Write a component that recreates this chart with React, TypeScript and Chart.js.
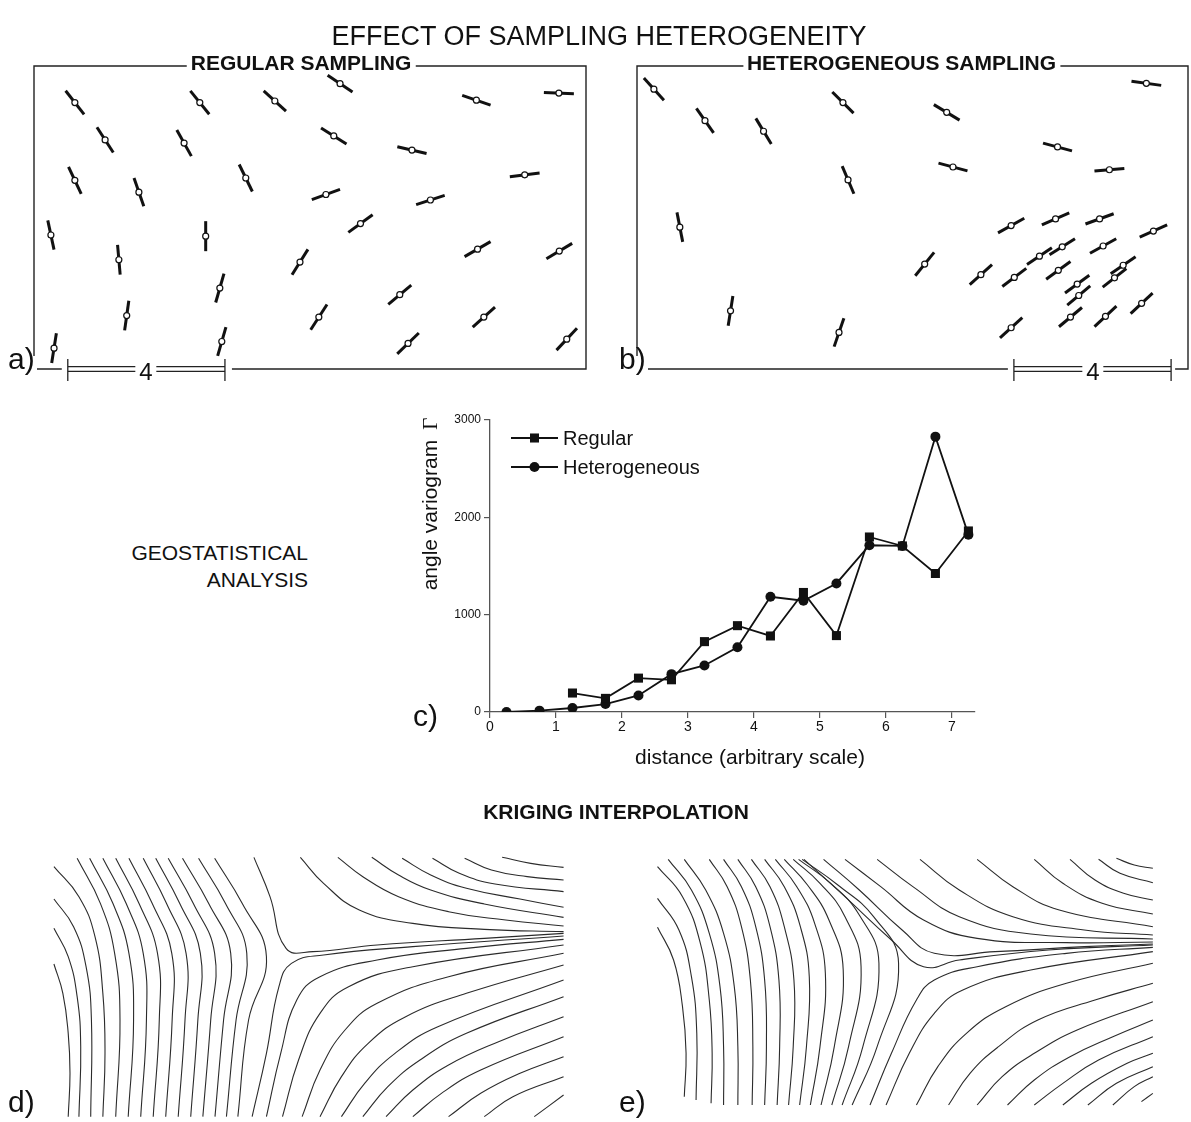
import React, { useEffect, useRef } from 'react';
import { Chart, registerables } from 'chart.js';

Chart.register(...registerables);

const SANS = '"Liberation Sans", Arial, Helvetica, sans-serif';
const INK = '#111';

// ---------- panel c : angle variogram ----------
const distances = [0.25, 0.75, 1.25, 1.75, 2.25, 2.75, 3.25, 3.75, 4.25, 4.75, 5.25, 5.75, 6.25, 6.75, 7.25];
const regularVariogram = [null, null, 195, 140, 348, 331, 723, 887, 781, 1228, 785, 1798, 1706, 1423, 1860];
const heterogeneousVariogram = [0, 14, 41, 82, 170, 389, 478, 665, 1184, 1143, 1321, 1713, 1706, 2829, 1822];
const distanceTicks = [0, 1, 2, 3, 4, 5, 6, 7];
const variogramTicks = [0, 1000, 2000, 3000];
const seriesNames = ['Regular', 'Heterogeneous'];

// ---------- panel a : regular sampling (map units, scale bar = 4) ----------
const regularSiteX = [1.04, 4.22, 6.13, 7.79, 11.26, 13.36, 1.81, 3.82, 7.63, 9.62, 1.04, 2.67, 5.39, 7.43, 10.09, 12.49, 0.43, 4.37, 8.31, 2.16, 6.77, 11.29, 13.37, 4.73, 9.31, 2.36, 7.25, 11.45, 0.51, 4.78, 9.52, 13.56];
const regularSiteY = [6.78, 6.78, 6.82, 7.26, 6.84, 7.02, 5.83, 5.75, 5.93, 5.57, 4.8, 4.5, 4.86, 4.44, 4.3, 4.94, 3.41, 3.38, 3.7, 2.78, 2.72, 3.05, 3.0, 2.06, 1.89, 1.36, 1.32, 1.32, 0.53, 0.7, 0.65, 0.76];
const regularSiteAngle = [52, 51, 42, 34, 19, 2, 57, 61, 32, 13, 65, 71, 64, -20, -18, -7, 78, 90, -36, 85, -58, -30, -31, -74, -40, -82, -57, -42, -81, -74, -44, -47];

// ---------- panel b : heterogeneous sampling ----------
const heteroSiteX = [0.43, 1.73, 3.22, 5.24, 7.88, 12.96, 10.7, 8.04, 12.02, 5.37, 1.09, 9.52, 10.65, 11.77, 13.14, 7.32, 8.75, 9.6, 10.24, 10.82, 11.86, 10.72, 12.37, 12.15, 11.2, 11.24, 12.84, 11.03, 11.92, 9.52, 2.38, 5.14];
const heteroSiteY = [7.12, 6.32, 6.05, 6.78, 6.53, 7.27, 5.65, 5.14, 5.07, 4.81, 3.61, 3.65, 3.82, 3.82, 3.51, 2.67, 2.4, 2.33, 2.87, 3.11, 3.13, 2.51, 2.64, 2.32, 2.16, 1.87, 1.67, 1.32, 1.34, 1.05, 1.48, 0.93];
const heteroSiteAngle = [48, 55, 59, 45, 31, 8, 15, 15, -5, 67, 79, -29, -24, -20, -24, -51, -42, -37, -34, -32, -29, -36, -34, -38, -36, -40, -43, -40, -43, -42, -81, -71];

const scaleBarLength = 4;
const regularBarStart = 0.86;
const heteroBarStart = 9.59;

// ---------- panels d / e : kriging streamlines (x,y pairs, y downward) ----------
const regularKrigingLines = [
  [95, 432, 120, 520, 135, 640, 140, 760, 135, 890],
  [95, 325, 135, 410, 160, 530, 170, 680, 165, 890],
  [95, 237, 150, 320, 185, 440, 200, 600, 198, 890],
  [95, 140, 165, 230, 210, 350, 232, 520, 238, 700, 232, 890],
  [160, 115, 225, 250, 265, 400, 280, 600, 268, 890],
  [195, 115, 260, 250, 305, 400, 318, 600, 303, 890],
  [232, 115, 297, 250, 345, 400, 354, 600, 338, 890],
  [268, 115, 333, 250, 385, 400, 390, 600, 373, 890],
  [305, 115, 370, 250, 425, 400, 426, 600, 408, 890],
  [345, 115, 410, 250, 465, 400, 462, 600, 443, 890],
  [380, 115, 447, 250, 505, 400, 498, 600, 478, 890],
  [415, 115, 485, 250, 545, 400, 534, 600, 512, 890],
  [455, 115, 528, 250, 590, 400, 570, 600, 546, 890],
  [500, 115, 575, 250, 635, 400, 605, 600, 578, 890],
  [545, 115, 622, 250, 690, 410, 640, 600, 610, 890],
  [655, 112, 700, 230, 745, 385, 820, 395, 1000, 375, 1300, 355, 1522, 340],
  [785, 112, 850, 190, 950, 270, 1100, 310, 1300, 328, 1522, 335],
  [890, 112, 960, 170, 1060, 230, 1200, 275, 1360, 300, 1522, 318],
  [985, 112, 1060, 165, 1150, 210, 1300, 252, 1522, 292],
  [1070, 115, 1150, 165, 1250, 205, 1400, 237, 1522, 262],
  [1155, 115, 1230, 160, 1330, 192, 1522, 215],
  [1245, 115, 1320, 150, 1420, 170, 1522, 180],
  [1350, 112, 1430, 130, 1522, 142],
  [650, 890, 690, 700, 725, 500, 760, 430, 850, 405, 1100, 380, 1522, 348],
  [690, 890, 730, 700, 775, 540, 840, 470, 1000, 420, 1250, 385, 1522, 358],
  [735, 890, 780, 720, 840, 580, 920, 500, 1100, 440, 1522, 375],
  [790, 890, 840, 750, 910, 630, 1000, 550, 1200, 470, 1522, 400],
  [840, 890, 900, 770, 975, 670, 1080, 590, 1250, 520, 1522, 435],
  [900, 890, 965, 790, 1050, 700, 1170, 620, 1522, 480],
  [960, 890, 1030, 800, 1120, 720, 1250, 640, 1522, 530],
  [1025, 890, 1100, 810, 1200, 735, 1340, 665, 1522, 590],
  [1100, 890, 1180, 820, 1290, 750, 1522, 650],
  [1200, 890, 1290, 820, 1400, 760, 1522, 710],
  [1300, 890, 1380, 830, 1522, 770],
  [1440, 890, 1522, 825],
];

const heteroKrigingLines = [
  [105, 322, 150, 420, 175, 560, 185, 700, 180, 830],
  [105, 235, 165, 330, 200, 470, 215, 640, 213, 840],
  [105, 140, 175, 230, 225, 370, 250, 540, 258, 700, 255, 850],
  [135, 118, 200, 210, 250, 340, 280, 500, 290, 680, 290, 855],
  [180, 118, 240, 210, 290, 340, 320, 500, 330, 680, 330, 855],
  [250, 118, 300, 200, 340, 320, 365, 480, 372, 680, 370, 855],
  [290, 118, 340, 200, 380, 320, 405, 480, 410, 680, 405, 855],
  [330, 118, 380, 200, 420, 320, 445, 480, 447, 680, 440, 855],
  [368, 118, 420, 200, 460, 320, 487, 480, 485, 680, 472, 855],
  [405, 118, 460, 200, 505, 320, 530, 470, 522, 680, 503, 855],
  [435, 118, 495, 200, 545, 310, 575, 460, 560, 680, 533, 855],
  [460, 118, 525, 195, 585, 300, 625, 450, 600, 680, 563, 855],
  [485, 118, 560, 190, 630, 290, 675, 440, 640, 680, 593, 855],
  [500, 118, 590, 190, 670, 285, 725, 430, 680, 680, 622, 855],
  [510, 118, 610, 195, 710, 290, 780, 430, 720, 680, 650, 855],
  [515, 118, 620, 220, 760, 360, 850, 440, 950, 420, 1200, 390, 1492, 375],
  [570, 118, 670, 210, 790, 330, 880, 400, 1050, 395, 1300, 380, 1492, 372],
  [630, 118, 730, 200, 850, 300, 1000, 355, 1250, 368, 1492, 366],
  [720, 118, 820, 200, 950, 290, 1150, 342, 1492, 357],
  [840, 118, 950, 210, 1100, 290, 1300, 330, 1492, 345],
  [1000, 118, 1100, 200, 1230, 270, 1492, 320],
  [1160, 118, 1240, 190, 1350, 250, 1492, 282],
  [1260, 118, 1330, 180, 1410, 220, 1492, 240],
  [1340, 118, 1400, 160, 1492, 188],
  [1390, 115, 1440, 135, 1492, 145],
  [700, 855, 760, 700, 830, 540, 880, 480, 1000, 440, 1250, 400, 1492, 382],
  [745, 855, 810, 700, 880, 580, 960, 510, 1150, 450, 1492, 395],
  [830, 855, 890, 740, 970, 640, 1080, 560, 1250, 490, 1492, 430],
  [920, 855, 980, 760, 1060, 680, 1170, 600, 1330, 540, 1492, 490],
  [1000, 855, 1070, 770, 1160, 700, 1280, 630, 1492, 545],
  [1085, 855, 1160, 780, 1260, 710, 1380, 650, 1492, 600],
  [1160, 855, 1240, 790, 1340, 720, 1492, 650],
  [1240, 855, 1320, 790, 1420, 730, 1492, 700],
  [1310, 855, 1390, 790, 1492, 740],
  [1380, 855, 1440, 800, 1492, 770],
  [1460, 845, 1492, 820],
];

// ---------- helpers ----------
const toPoints = (flat: number[]) => {
  const pts: { x: number; y: number }[] = [];
  for (let i = 0; i < flat.length; i += 2) pts.push({ x: flat[i], y: flat[i + 1] });
  return pts;
};

const baseOptions = {
  animation: false,
  responsive: false,
  maintainAspectRatio: false,
  devicePixelRatio: 1,
  events: [],
  plugins: { legend: { display: false }, tooltip: { enabled: false } },
};

function mapFrame(barStart: number, leftCut: number, bottomStart: number, endGap: number) {
  return {
    id: 'mapFrame',
    beforeDatasetsDraw(chart: any) {
      const { ctx, chartArea: a, scales } = chart;
      const b0 = scales.x.getPixelForValue(barStart);
      const b1 = scales.x.getPixelForValue(barStart + scaleBarLength);
      ctx.save();
      ctx.strokeStyle = '#222';
      ctx.lineWidth = 1.4;
      ctx.beginPath();
      ctx.moveTo(a.left, a.bottom - leftCut);
      ctx.lineTo(a.left, a.top);
      ctx.lineTo(a.right, a.top);
      ctx.lineTo(a.right, a.bottom);
      ctx.lineTo(b1 + endGap, a.bottom);
      ctx.moveTo(a.left + bottomStart, a.bottom);
      ctx.lineTo(b0 - 6, a.bottom);
      ctx.stroke();
      ctx.lineWidth = 1.3;
      ctx.beginPath();
      ctx.moveTo(b0, a.bottom - 2.4);
      ctx.lineTo(b1, a.bottom - 2.4);
      ctx.moveTo(b0, a.bottom + 2.4);
      ctx.lineTo(b1, a.bottom + 2.4);
      ctx.moveTo(b0, a.bottom - 10);
      ctx.lineTo(b0, a.bottom + 12);
      ctx.moveTo(b1, a.bottom - 10);
      ctx.lineTo(b1, a.bottom + 12);
      ctx.stroke();
      ctx.restore();
    },
  };
}

function siteChart(xs: number[], ys: number[], angles: number[], xMax: number, padding: any, frame: any) {
  const pts = () => xs.map((x, i) => ({ x, y: ys[i] }));
  return {
    type: 'scatter',
    data: {
      datasets: [
        { data: pts(), order: 0, pointStyle: 'circle', pointRadius: 3, pointBackgroundColor: '#fff', pointBorderColor: INK, pointBorderWidth: 1.2 },
        { data: pts(), order: 1, pointStyle: 'line', pointRotation: angles, pointRadius: 15, pointBorderColor: INK, pointBackgroundColor: INK, pointBorderWidth: 3 },
      ],
    },
    options: {
      ...baseOptions,
      layout: { padding, autoPadding: false },
      scales: {
        x: { type: 'linear', display: false, min: 0, max: xMax },
        y: { type: 'linear', display: false, min: 0, max: 7.71 },
      },
    },
    plugins: [frame],
  };
}

function streamChart(lines: number[][]) {
  return {
    type: 'scatter',
    data: {
      datasets: lines.map((flat) => ({
        data: toPoints(flat),
        showLine: true,
        pointRadius: 0,
        borderColor: '#2b2b2b',
        borderWidth: 1.1,
        tension: 0.45,
        fill: false,
      })),
    },
    options: {
      ...baseOptions,
      layout: { padding: 0, autoPadding: false },
      scales: {
        x: { type: 'linear', display: false, min: 0, max: 1568 },
        y: { type: 'linear', display: false, min: 0, max: 900, reverse: true },
      },
    },
  };
}

const legendMarks = {
  id: 'legendMarks',
  afterDraw(chart: any) {
    const { ctx, chartArea: a } = chart;
    const rows = [a.top + 18, a.top + 47];
    chart.data.datasets.forEach((ds: any, i: number) => {
      const y = rows[i];
      ctx.save();
      ctx.strokeStyle = INK;
      ctx.fillStyle = INK;
      ctx.lineWidth = 1.8;
      ctx.beginPath();
      ctx.moveTo(a.left + 21, y);
      ctx.lineTo(a.left + 68, y);
      ctx.stroke();
      const cx = a.left + 44.5;
      ctx.beginPath();
      if (ds.pointStyle === 'rect') {
        const s = ds.pointRadius * Math.SQRT1_2;
        ctx.rect(cx - s, y - s, 2 * s, 2 * s);
      } else {
        ctx.arc(cx, y, ds.pointRadius, 0, Math.PI * 2);
      }
      ctx.fill();
      ctx.restore();
    });
  },
};

function variogramChart() {
  const reg = distances.map((d, i) => ({ x: d, y: regularVariogram[i] })).filter((p) => p.y !== null);
  const het = distances.map((d, i) => ({ x: d, y: heterogeneousVariogram[i] }));
  const axisColor = '#555';
  return {
    type: 'scatter',
    data: {
      datasets: [
        { label: seriesNames[0], data: reg, showLine: true, borderColor: INK, borderWidth: 1.8, pointStyle: 'rect', pointRadius: 6.4, pointBackgroundColor: INK, pointBorderColor: INK, pointBorderWidth: 0 },
        { label: seriesNames[1], data: het, showLine: true, borderColor: INK, borderWidth: 1.8, pointStyle: 'circle', pointRadius: 5, pointBackgroundColor: INK, pointBorderColor: INK, pointBorderWidth: 0 },
      ],
    },
    options: {
      ...baseOptions,
      layout: { padding: { left: 40, top: 40, right: 25, bottom: 38 }, autoPadding: false },
      scales: {
        x: {
          type: 'linear',
          min: 0,
          max: 7.35,
          afterBuildTicks: (s: any) => { s.ticks = distanceTicks.map((v) => ({ value: v })); },
          afterFit: (s: any) => { s.height = 30; },
          grid: { drawOnChartArea: false, drawTicks: true, tickLength: 6, color: axisColor, lineWidth: 1.2 },
          border: { display: true, color: axisColor, width: 1.3 },
          ticks: { color: INK, font: { family: SANS, size: 14 }, padding: 1, maxRotation: 0, autoSkip: false, callback: (v: any) => String(v) },
        },
        y: {
          type: 'linear',
          min: 0,
          max: 3000,
          afterBuildTicks: (s: any) => { s.ticks = variogramTicks.map((v) => ({ value: v })); },
          afterFit: (s: any) => { s.width = 50; },
          grid: { drawOnChartArea: false, drawTicks: true, tickLength: 6, color: axisColor, lineWidth: 1.2 },
          border: { display: true, color: axisColor, width: 1.3 },
          ticks: { color: INK, font: { family: SANS, size: 12 }, padding: 3, autoSkip: false, callback: (v: any) => String(v) },
        },
      },
    },
    plugins: [legendMarks],
  };
}

function ChartCanvas({ left, top, width, height, make }: any) {
  const ref = useRef<HTMLCanvasElement>(null);
  useEffect(() => {
    const chart = new Chart(ref.current as HTMLCanvasElement, make());
    return () => chart.destroy();
  }, []);
  return (
    <canvas
      ref={ref}
      width={width}
      height={height}
      style={{ position: 'absolute', left, top, width, height }}
    />
  );
}

function Label({ x, y, size, text, bold, align = 'left', bg }: any) {
  const shift = align === 'center' ? 'translateX(-50%)' : align === 'right' ? 'translateX(-100%)' : 'none';
  return (
    <div
      style={{
        position: 'absolute',
        left: x,
        top: y - 0.8465 * size,
        fontSize: size,
        lineHeight: `${size}px`,
        fontFamily: SANS,
        fontWeight: bold ? 700 : 400,
        whiteSpace: 'nowrap',
        color: INK,
        transform: shift,
        background: bg || 'transparent',
        padding: bg ? '0 4px' : 0,
      }}
    >
      {text}
    </div>
  );
}

export default function App() {
  return (
    <div
      style={{
        position: 'absolute',
        left: 0,
        top: 0,
        width: 1191,
        height: 1122,
        background: '#fff',
        overflow: 'hidden',
        fontFamily: SANS,
      }}
    >
      <ChartCanvas
        left={0}
        top={40}
        width={600}
        height={350}
        make={() => siteChart(regularSiteX, regularSiteY, regularSiteAngle, 14.05, { left: 34, top: 26, right: 14, bottom: 21 }, mapFrame(regularBarStart, 13, 3, 7))}
      />
      <ChartCanvas
        left={600}
        top={40}
        width={591}
        height={350}
        make={() => siteChart(heteroSiteX, heteroSiteY, heteroSiteAngle, 14.02, { left: 37, top: 26, right: 3, bottom: 21 }, mapFrame(heteroBarStart, 13, 11, 4))}
      />
      <ChartCanvas left={400} top={380} width={600} height={400} make={variogramChart} />
      <ChartCanvas left={20} top={820} width={560} height={300} make={() => streamChart(regularKrigingLines)} />
      <ChartCanvas left={620} top={820} width={560} height={300} make={() => streamChart(heteroKrigingLines)} />

      <Label x={599} y={46} size={27} text="EFFECT OF SAMPLING HETEROGENEITY" align="center" />
      <Label x={301} y={70} size={21} bold text="REGULAR SAMPLING" align="center" bg="#fff" />
      <Label x={901.5} y={70} size={21} bold text="HETEROGENEOUS SAMPLING" align="center" bg="#fff" />
      <Label x={8} y={369} size={30} text="a)" />
      <Label x={619} y={369} size={30} text="b)" />
      <Label x={145.9} y={380} size={24} text="4" align="center" bg="#fff" />
      <Label x={1093} y={380} size={24} text="4" align="center" bg="#fff" />

      <Label x={308} y={560} size={21} text="GEOSTATISTICAL" align="right" />
      <Label x={308} y={587} size={21} text="ANALYSIS" align="right" />
      <Label x={413} y={726} size={30} text="c)" />
      <Label x={563} y={445} size={20} text={seriesNames[0]} />
      <Label x={563} y={474} size={20} text={seriesNames[1]} />
      <Label x={750} y={764} size={21} text="distance (arbitrary scale)" align="center" />
      <div
        style={{
          position: 'absolute',
          left: 430,
          top: 504,
          transform: 'translate(-50%, -50%) rotate(-90deg)',
          fontSize: 21,
          lineHeight: '21px',
          whiteSpace: 'nowrap',
          fontFamily: SANS,
          color: INK,
        }}
      >
        angle variogram
        <span style={{ fontFamily: '"Liberation Serif", serif', marginLeft: 10 }}>Γ</span>
      </div>

      <Label x={616} y={819} size={21} bold text="KRIGING INTERPOLATION" align="center" />
      <Label x={8} y={1112} size={30} text="d)" />
      <Label x={619} y={1112} size={30} text="e)" />
    </div>
  );
}
